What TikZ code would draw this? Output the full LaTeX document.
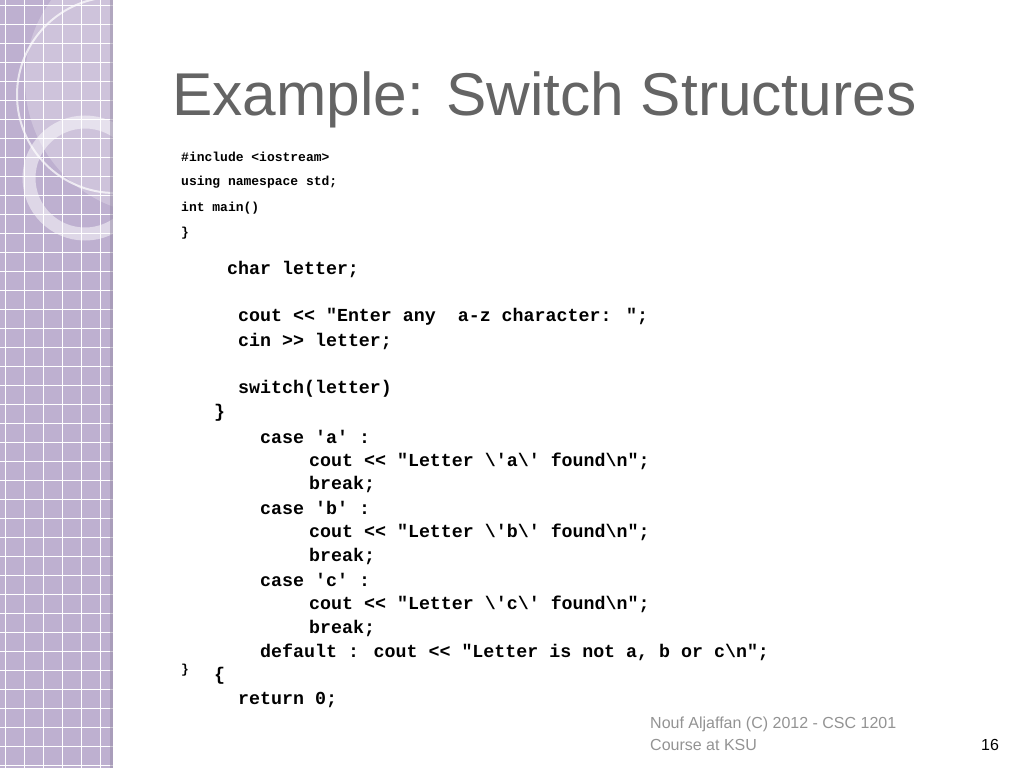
\documentclass[tikz,border=0pt]{standalone}
\usepackage{fontspec}
\setmainfont{Liberation Sans}
\newfontfamily\codefont{Liberation Mono}
\begin{document}
\begin{tikzpicture}[x=1pt,y=-1pt,
  code/.style={anchor=west,inner sep=0pt,font=\codefont\bfseries\fontsize{18.3}{20}\selectfont},
  small/.style={anchor=west,inner sep=0pt,font=\codefont\bfseries\fontsize{13}{15}\selectfont},
  foot/.style={anchor=west,inner sep=0pt,text=gray!85,font=\fontsize{16}{18}\selectfont}]
\useasboundingbox (0,0) rectangle (1024,768);
\fill[white] (0,0) rectangle (1024,768);
% sidebar
\fill[color={rgb,255:red,190;green,176;blue,208}] (0,0) rectangle (113,768);
\begin{scope}
\clip (0,0) rectangle (113,768);
\foreach \i in {0,...,40} {\draw[white,line width=0.9] (0,\i*19+5) -- (113,\i*19+5);}
\foreach \i in {0,...,6} {\draw[white,line width=0.9] (\i*19+5,0) -- (\i*19+5,768);}
\fill[white,opacity=0.25] (160,80) circle (135);
\draw[white,opacity=0.7,line width=2] (115,95) circle (98);
\draw[white,opacity=0.5,line width=13] (85,178) circle (56);
\end{scope}
\fill[color={rgb,255:red,150;green,140;blue,165},opacity=0.5] (110,0) rectangle (113,768);
% title
\node (title) [anchor=west,inner sep=0pt,text={rgb,255:red,100;green,100;blue,100},font=\fontsize{60.4}{62}\selectfont] at (172,100) {Example: Switch Structures};
% header code
\node (h1) [small] at (181,157) {\#include <iostream>};
\node (h2) [small] at (181,182) {using namespace std;};
\node (h3) [small] at (181,208) {int main()};
\node (h4) [small] at (181,233) {\}};
% main code
\node (c1) [code] at (227,269) {char letter;};
\node (c2) [code] at (238,317) {cout << "Enter any\ \ a-z character: ";};
\node (c3) [code] at (238,341) {cin >> letter;};
\node (c4) [code] at (238,389) {switch(letter)};
\node (c5) [code] at (214,413) {\}};
\node (c6) [code] at (260,437) {case 'a' :};
\node (c7) [code] at (309,461) {cout << "Letter \textbackslash'a\textbackslash' found\textbackslash n";};
\node (c8) [code] at (309,484) {break;};
\node (c9) [code] at (260,508) {case 'b' :};
\node (c10) [code] at (309,532) {cout << "Letter \textbackslash'b\textbackslash' found\textbackslash n";};
\node (c11) [code] at (309,556) {break;};
\node (c12) [code] at (260,580) {case 'c' :};
\node (c13) [code] at (309,604) {cout << "Letter \textbackslash'c\textbackslash' found\textbackslash n";};
\node (c14) [code] at (309,628) {break;};
\node (c15) [code] at (260,652) {default : cout << "Letter is not a, b or c\textbackslash n";};
\node (c16) [code] at (214,676) {\{};
\node (c17) [code] at (238,700) {return 0;};
\node (cb) [small] at (181,670) {\}};
% footer
\node (f1) [foot] at (650,724) {Nouf Aljaffan (C) 2012 - CSC 1201};
\node (f2) [foot] at (650,745) {Course at KSU};
\node (pg) [anchor=west,inner sep=0pt,font=\fontsize{16}{18}\selectfont] at (981,745) {16};
\end{tikzpicture}
\end{document}
